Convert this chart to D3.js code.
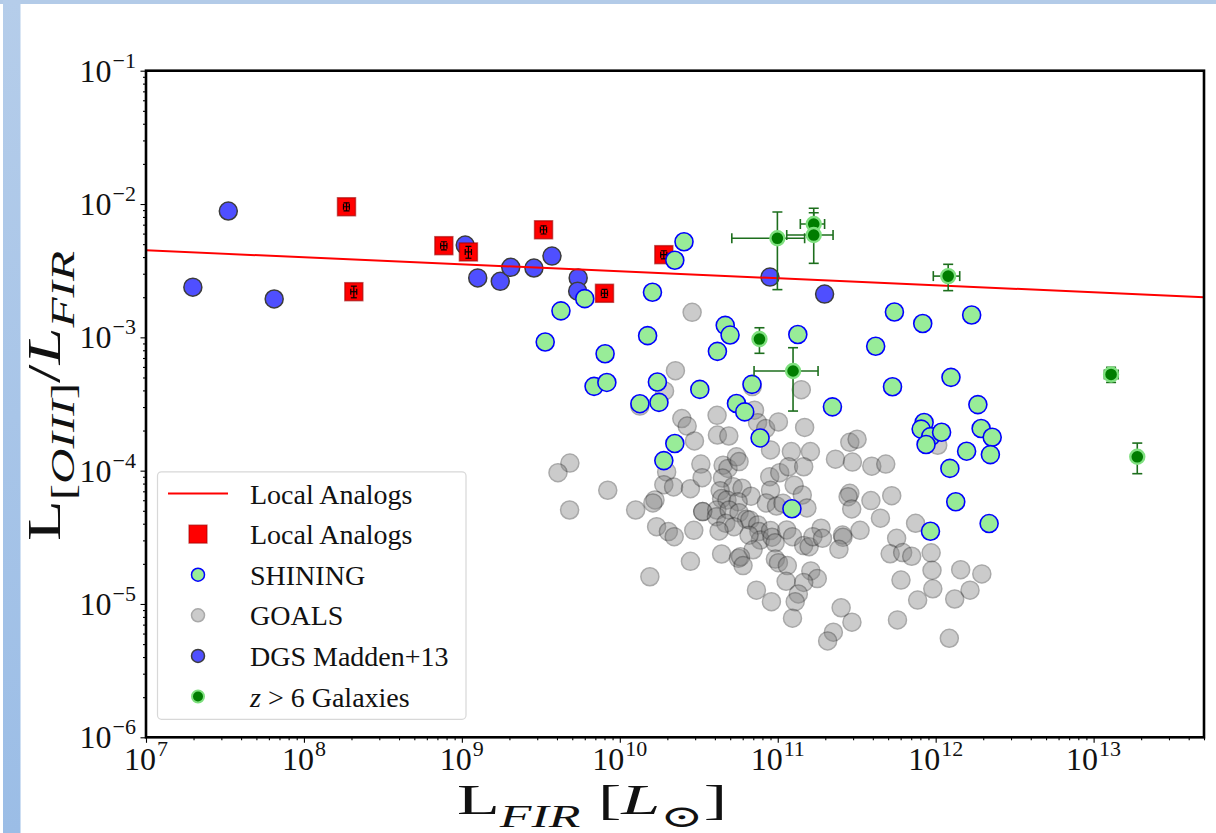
<!DOCTYPE html>
<html>
<head>
<meta charset="utf-8">
<script src="https://cdnjs.cloudflare.com/ajax/libs/d3/7.8.5/d3.min.js"></script>
<style>
    body { margin: 0; background: #fff; }
    text { font-family: "Liberation Serif", "DejaVu Serif", serif; fill: #111; }
</style>
</head>
<body>
<script>
    // ---- data ----
    const fitL = [1e7, 5e13];
    const fitRatio = [4.5e-3, 2.0e-3];

    const analogL = [1.86e8, 2.07e8, 7.69e8, 1.10e9, 3.29e9, 8.0e9, 1.90e10];
    const analogRatio = [9.54e-3, 2.20e-3, 4.87e-3, 4.37e-3, 6.41e-3, 2.14e-3, 4.17e-3];
    const analogLErr = [8e6, 9e6, 3.5e7, 5e7, 1.5e8, 3.6e8, 8.5e8];
    const analogRatioErr = [6.7e-4, 2.2e-4, 3.4e-4, 4.5e-4, 4.5e-4, 1.5e-4, 2.9e-4];

    const dgsL = [1.98e7, 3.32e7, 6.48e7, 1.05e9, 1.26e9, 1.75e9, 2.04e9, 2.86e9, 3.72e9, 5.45e9, 5.41e9, 8.93e10, 1.98e11];
    const dgsRatio = [2.38e-3, 8.86e-3, 1.94e-3, 4.92e-3, 2.79e-3, 2.63e-3, 3.35e-3, 3.31e-3, 4.07e-3, 2.79e-3, 2.22e-3, 2.83e-3, 2.11e-3];

    const shiningL = [2.55e10, 2.23e10, 1.61e10, 6.0e9, 4.24e9, 3.37e9, 8.07e9, 6.87e9, 8.28e9, 1.34e10,
        1.77e10, 1.73e10, 1.50e10, 3.21e10, 4.15e10, 4.65e10, 4.99e10, 6.87e10, 5.48e10, 6.18e10,
        1.34e11, 2.23e10, 1.90e10, 7.73e10, 1.23e11, 5.48e11, 8.28e11, 1.69e12, 4.17e11, 1.25e12,
        5.33e11, 2.22e11, 1.85e12, 8.45e11, 8.09e11, 9.29e11, 1.09e12, 8.69e11, 1.94e12, 2.28e12,
        1.57e12, 2.22e12, 1.23e12, 1.34e12, 2.18e12, 9.27e11];
    const shiningRatio = [5.21e-3, 3.79e-3, 2.18e-3, 1.95e-3, 1.58e-3, 9.23e-4, 7.53e-4, 4.29e-4, 4.59e-4, 3.18e-4,
        3.25e-4, 4.62e-4, 1.03e-3, 4.07e-4, 7.85e-4, 1.23e-3, 1.04e-3, 4.44e-4, 3.19e-4, 2.76e-4,
        1.05e-3, 1.60e-4, 1.19e-4, 1.76e-4, 5.18e-5, 1.55e-3, 1.27e-3, 1.47e-3, 8.57e-4, 5.01e-4,
        4.26e-4, 3.01e-4, 3.13e-4, 2.30e-4, 2.05e-4, 1.80e-4, 1.94e-4, 1.57e-4, 2.07e-4, 1.78e-4,
        1.40e-4, 1.32e-4, 1.04e-4, 5.85e-5, 4.01e-5, 3.51e-5];

    const goalsL = [2.87e10, 2.25e10, 1.92e10, 1.41e11, 7.13e10, 2.47e10, 2.67e10, 4.13e10, 7.45e10, 8.39e10,
        1.01e11, 1.48e11, 2.97e10, 4.15e10, 4.90e10, 9.0e10, 1.22e11, 1.61e11, 4.83e9, 4.06e9,
        8.39e9, 4.81e9, 1.26e10, 1.98e10, 1.90e10, 2.19e10, 2.80e10, 3.26e10, 3.32e10, 4.51e10,
        4.84e10, 5.48e10, 5.69e10, 4.47e10, 5.21e10, 5.94e10, 6.78e10, 4.32e10, 4.41e10, 4.77e10,
        5.61e10, 1.67e10, 1.62e10, 3.35e10, 3.35e10, 4.11e10, 4.09e10, 4.92e10, 5.69e10, 6.34e10,
        6.65e10, 4.69e10, 5.28e10, 4.25e10, 1.71e10, 2.03e10, 2.21e10, 2.94e10, 7.47e10, 7.60e10,
        7.76e10, 6.58e10, 9.0e10, 9.2e10, 9.62e10, 1.14e11, 1.24e11, 8.9e10, 9.0e10, 1.03e11,
        1.17e11, 1.46e11, 1.27e11, 1.43e11, 8.47e10, 9.82e10, 1.08e11, 1.53e11, 6.98e10, 4.41e10,
        5.64e10, 5.81e10, 6.03e10, 2.80e10, 1.55e10, 7.33e10, 9.12e10, 9.66e10, 1.01e11, 1.15e11,
        1.46e11, 1.58e11, 1.62e11, 1.78e11, 1.46e11, 1.13e11, 1.35e11, 1.29e11, 1.24e11, 1.88e11,
        1.67e11, 1.92e11, 2.86e11, 3.18e11, 2.32e11, 2.97e11, 3.94e11, 4.83e11, 2.86e11, 2.79e11,
        2.94e11, 3.89e11, 5.27e11, 4.47e11, 3.32e11, 7.46e11, 2.57e11, 2.59e11, 2.44e11, 5.66e11,
        5.15e11, 6.18e11, 7.05e11, 9.36e11, 9.48e11, 9.59e11, 7.69e11, 6.03e11, 1.44e12, 1.96e12,
        1.65e12, 1.32e12, 1.22e12, 2.52e11, 2.95e11, 2.25e11, 2.07e11, 5.73e11, 1.03e12, 1.34e10,
        6.9e10];
    const goalsRatio = [1.54e-3, 5.62e-4, 3.96e-4, 4.05e-4, 2.84e-4, 2.46e-4, 2.16e-4, 2.60e-4, 2.29e-4, 2.07e-4,
        2.32e-4, 2.11e-4, 1.67e-4, 1.85e-4, 1.82e-4, 1.43e-4, 1.39e-4, 1.39e-4, 1.14e-4, 9.66e-5,
        7.13e-5, 5.07e-5, 5.07e-5, 9.78e-5, 7.85e-5, 7.55e-5, 7.33e-5, 1.12e-4, 8.86e-5, 1.10e-4,
        1.04e-4, 1.27e-4, 1.17e-4, 8.81e-5, 7.59e-5, 7.38e-5, 6.43e-5, 7.08e-5, 6.17e-5, 6.03e-5,
        5.85e-5, 6.03e-5, 5.73e-5, 4.93e-5, 4.93e-5, 5.07e-5, 4.52e-5, 5.07e-5, 4.84e-5, 4.32e-5,
        4.27e-5, 4.03e-5, 3.80e-5, 3.53e-5, 3.80e-5, 3.49e-5, 3.20e-5, 3.57e-5, 3.92e-5, 3.49e-5,
        3.02e-5, 3.28e-5, 3.55e-5, 3.17e-5, 2.88e-5, 3.59e-5, 3.20e-5, 9.02e-5, 7.13e-5, 9.66e-5,
        1.07e-4, 1.07e-4, 7.77e-5, 6.57e-5, 5.73e-5, 5.43e-5, 5.69e-5, 5.25e-5, 2.55e-5, 2.37e-5,
        2.20e-5, 2.26e-5, 1.94e-5, 2.09e-5, 1.60e-5, 1.27e-5, 1.04e-5, 2.17e-5, 2.04e-5, 1.94e-5,
        2.74e-5, 2.69e-5, 1.77e-5, 1.55e-5, 1.45e-5, 1.48e-5, 1.19e-5, 1.04e-5, 7.83e-6, 3.70e-5,
        3.20e-5, 3.11e-5, 1.63e-4, 1.72e-4, 1.22e-4, 1.16e-4, 1.08e-4, 1.12e-4, 6.76e-5, 6.38e-5,
        5.16e-5, 5.96e-5, 6.49e-5, 4.40e-5, 3.57e-5, 4.03e-5, 3.29e-5, 3.16e-5, 2.57e-5, 3.11e-5,
        2.38e-5, 2.43e-5, 2.28e-5, 2.42e-5, 1.79e-5, 1.30e-5, 1.07e-5, 1.51e-5, 1.81e-5, 1.68e-5,
        1.27e-5, 1.09e-5, 5.53e-6, 9.37e-6, 7.30e-6, 6.14e-6, 5.28e-6, 7.59e-6, 1.55e-4, 3.05e-4,
        4.27e-4];

    const highzL = [9.95e10, 1.69e11, 1.69e11, 1.20e12, 1.25e11, 7.66e10, 1.29e13, 1.89e13];
    const highzRatio = [5.53e-3, 7.08e-3, 5.85e-3, 2.88e-3, 5.59e-4, 9.71e-4, 5.27e-4, 1.27e-4];
    const highzLLo = [5.12e10, 1.39e11, 1.14e11, 9.66e11, 7.08e10, 7.66e10, 1.17e13, 1.89e13];
    const highzLHi = [1.48e11, 1.98e11, 2.24e11, 1.42e12, 1.80e11, 7.66e10, 1.43e13, 1.89e13];
    const highzRatioLo = [2.28e-3, 5.4e-3, 3.59e-3, 2.24e-3, 2.80e-4, 7.59e-4, 4.59e-4, 9.49e-5];
    const highzRatioHi = [8.71e-3, 9.29e-3, 8.6e-3, 3.53e-3, 8.36e-4, 1.18e-3, 5.96e-4, 1.61e-4];

    const xTickExp = [7, 8, 9, 10, 11, 12, 13];
    const yTickExp = [-1, -2, -3, -4, -5, -6];

    const legendLabels = ['Local Analogs', 'Local Analogs', 'SHINING', 'GOALS', 'DGS Madden+13', 'z > 6 Galaxies'];

    // ---- colours ----
    const C = {
        red: '#ff0000', redEdge: '#a00000',
        dgs: '#4f4fff', dgsEdge: '#3c3c3c',
        shining: '#98ec98', shiningEdge: '#0000ff',
        goals: '#808080', goalsEdge: '#2a2a2a',
        hz: '#007d00', hzEdge: '#7fe07f', hzBar: '#1d6e1d'
    };

    const W = 1216, H = 833;
    const svg = d3.select('body').append('svg').attr('width', W).attr('height', H);

    // page decoration (blue frame of the screenshot)
    const defs = svg.append('defs');
    const grad = defs.append('linearGradient').attr('id', 'side').attr('x1', 0).attr('y1', 0).attr('x2', 0).attr('y2', 1);
    grad.append('stop').attr('offset', '0%').attr('stop-color', '#b5cdea');
    grad.append('stop').attr('offset', '100%').attr('stop-color', '#9bbde6');
    svg.append('rect').attr('x', 0).attr('y', 0).attr('width', W).attr('height', 4).attr('fill', '#b3cbe8');
    svg.append('rect').attr('x', 3).attr('y', 0).attr('width', 17.5).attr('height', H).attr('fill', 'url(#side)');

    const x = d3.scaleLog().domain([1e7, 5e13]).range([146, 1204]);
    const y = d3.scaleLog().domain([1e-6, 1e-1]).range([737.3, 70.7]);

    const xMajor = xTickExp.map(e => Math.pow(10, e));
    const yMajor = yTickExp.map(e => Math.pow(10, e));
    const xMinor = [], yMinor = [];
    xTickExp.forEach(e => d3.range(2, 10).forEach(m => { const v = m * Math.pow(10, e); if (v <= 5e13) xMinor.push(v); }));
    yTickExp.slice(1).forEach(e => d3.range(2, 10).forEach(m => yMinor.push(m * Math.pow(10, e))));

    // ---- axes ticks ----
    const axisG = svg.append('g');
    function tickAxis(axis, transform, size) {
        const g = axisG.append('g').attr('transform', transform).call(axis.tickSize(size).tickFormat(''));
        g.select('.domain').remove();
        g.selectAll('line').attr('stroke', '#000').attr('stroke-width', 1.1);
    }
    tickAxis(d3.axisBottom(x).tickValues(xMajor), `translate(0,${y.range()[0]})`, 5.5);
    tickAxis(d3.axisBottom(x).tickValues(xMinor), `translate(0,${y.range()[0]})`, 3);
    tickAxis(d3.axisLeft(y).tickValues(yMajor), `translate(${x.range()[0]},0)`, 5.5);
    tickAxis(d3.axisLeft(y).tickValues(yMinor), `translate(${x.range()[0]},0)`, 3);

    // tick labels 10^n : base and exponent as separate text elements
    const TF = 32, TS = 22;
    function powerLabel(px, py, e, anchor) {
        const g = axisG.append('g');
        const base = g.append('text').attr('font-size', TF).attr('y', py).text('10');
        const sup = g.append('text').attr('font-size', TS).attr('y', py - 14).text(String(e).replace('-', '\u2212'));
        const wb = base.node().getComputedTextLength(), ws = sup.node().getComputedTextLength();
        const total = wb + 1 + ws;
        const x0 = anchor === 'middle' ? px - total / 2 : px - total;
        base.attr('x', x0);
        sup.attr('x', x0 + wb + 1);
    }
    xTickExp.forEach(e => powerLabel(x(Math.pow(10, e)), 770, e, 'middle'));
    yTickExp.forEach(e => powerLabel(136, y(Math.pow(10, e)) + 11, e, 'end'));

    // ---- marks ----
    const plot = svg.append('g');
    const clip = defs.append('clipPath').attr('id', 'clip');
    clip.append('rect').attr('x', x.range()[0]).attr('y', y.range()[1])
        .attr('width', x.range()[1] - x.range()[0]).attr('height', y.range()[0] - y.range()[1]);
    plot.attr('clip-path', 'url(#clip)');

    const R = 9;

    plot.append('g').selectAll('circle').data(d3.zip(dgsL, dgsRatio)).enter().append('circle')
        .attr('cx', d => x(d[0])).attr('cy', d => y(d[1])).attr('r', R)
        .attr('fill', C.dgs).attr('stroke', C.dgsEdge).attr('stroke-width', 1.5);

    const sq = 18;
    const an = d3.zip(analogL, analogRatio, analogLErr, analogRatioErr);
    plot.append('g').selectAll('rect').data(an).enter().append('rect')
        .attr('x', d => x(d[0]) - sq / 2).attr('y', d => y(d[1]) - sq / 2)
        .attr('width', sq).attr('height', sq)
        .attr('fill', C.red).attr('stroke', C.redEdge).attr('stroke-opacity', 0.6).attr('stroke-width', 1.5);
    const anErr = plot.append('g').attr('stroke', '#000').attr('stroke-width', 1.2);
    an.forEach(d => {
        const cx = x(d[0]), cy = y(d[1]);
        const x0 = x(d[0] - d[2]), x1 = x(d[0] + d[2]);
        const y0 = y(d[1] - d[3]), y1 = y(d[1] + d[3]);
        anErr.append('line').attr('x1', x0).attr('x2', x1).attr('y1', cy).attr('y2', cy);
        anErr.append('line').attr('x1', cx).attr('x2', cx).attr('y1', y0).attr('y2', y1);
        [x0, x1].forEach(v => anErr.append('line').attr('x1', v).attr('x2', v).attr('y1', cy - 3).attr('y2', cy + 3));
        [y0, y1].forEach(v => anErr.append('line').attr('y1', v).attr('y2', v).attr('x1', cx - 3).attr('x2', cx + 3));
    });

    plot.append('g').selectAll('circle').data(d3.zip(goalsL, goalsRatio)).enter().append('circle')
        .attr('cx', d => x(d[0])).attr('cy', d => y(d[1])).attr('r', R)
        .attr('fill', C.goals).attr('stroke', C.goalsEdge).attr('stroke-width', 1.5).attr('opacity', 0.4);

    plot.append('g').selectAll('circle').data(d3.zip(shiningL, shiningRatio)).enter().append('circle')
        .attr('cx', d => x(d[0])).attr('cy', d => y(d[1])).attr('r', R)
        .attr('fill', C.shining).attr('stroke', C.shiningEdge).attr('stroke-width', 1.6);

    plot.append('path').datum(d3.zip(fitL, fitRatio))
        .attr('d', d3.line().x(d => x(d[0])).y(d => y(d[1])))
        .attr('stroke', C.red).attr('stroke-width', 2).attr('fill', 'none');

    // z > 6 with error bars
    const hz = d3.zip(highzL, highzRatio, highzLLo, highzLHi, highzRatioLo, highzRatioHi);
    const hzErr = plot.append('g').attr('stroke', C.hzBar).attr('stroke-width', 1.6);
    const cap = 5;
    hz.forEach(d => {
        const cx = x(d[0]), cy = y(d[1]);
        if (d[2] !== d[3]) {
            hzErr.append('line').attr('x1', x(d[2])).attr('x2', x(d[3])).attr('y1', cy).attr('y2', cy);
            [d[2], d[3]].forEach(v => hzErr.append('line').attr('x1', x(v)).attr('x2', x(v)).attr('y1', cy - cap).attr('y2', cy + cap));
        }
        hzErr.append('line').attr('x1', cx).attr('x2', cx).attr('y1', y(d[4])).attr('y2', y(d[5]));
        [d[4], d[5]].forEach(v => hzErr.append('line').attr('y1', y(v)).attr('y2', y(v)).attr('x1', cx - cap).attr('x2', cx + cap));
    });
    plot.append('g').selectAll('circle').data(hz).enter().append('circle')
        .attr('cx', d => x(d[0])).attr('cy', d => y(d[1])).attr('r', 7)
        .attr('fill', C.hz).attr('stroke', C.hzEdge).attr('stroke-width', 2.4);

    // frame
    svg.append('rect').attr('x', x.range()[0]).attr('y', y.range()[1])
        .attr('width', x.range()[1] - x.range()[0]).attr('height', y.range()[0] - y.range()[1])
        .attr('fill', 'none').attr('stroke', '#000').attr('stroke-width', 2.6);

    // ---- legend ----
    const lg = svg.append('g');
    lg.append('rect').attr('x', 157.5).attr('y', 471.8).attr('width', 308.5).attr('height', 247.5).attr('rx', 4)
        .attr('fill', '#fff').attr('fill-opacity', 0.85).attr('stroke', '#d8d8d8').attr('stroke-width', 1.2);
    const ly0 = 493.5, ldy = 40.6, mx = 198;
    legendLabels.forEach((lab, i) => {
        const yy = ly0 + i * ldy;
        const g = lg.append('g');
        if (i === 0) {
            g.append('line').attr('x1', 168).attr('x2', 228).attr('y1', yy).attr('y2', yy).attr('stroke', C.red).attr('stroke-width', 2);
        } else if (i === 1) {
            g.append('rect').attr('x', mx - 9).attr('y', yy - 9).attr('width', 18).attr('height', 18)
                .attr('fill', C.red).attr('stroke', C.redEdge).attr('stroke-opacity', 0.6).attr('stroke-width', 1.3);
        } else if (i === 2) {
            g.append('circle').attr('cx', mx).attr('cy', yy).attr('r', 6.5).attr('fill', C.shining).attr('stroke', C.shiningEdge).attr('stroke-width', 1.5);
        } else if (i === 3) {
            g.append('circle').attr('cx', mx).attr('cy', yy).attr('r', 6.5).attr('fill', C.goals).attr('stroke', C.goalsEdge).attr('stroke-width', 1.5).attr('opacity', 0.4);
        } else if (i === 4) {
            g.append('circle').attr('cx', mx).attr('cy', yy).attr('r', 6.5).attr('fill', C.dgs).attr('stroke', C.dgsEdge).attr('stroke-width', 1.5);
        } else {
            g.append('circle').attr('cx', mx).attr('cy', yy).attr('r', 6).attr('fill', C.hz).attr('stroke', C.hzEdge).attr('stroke-width', 2);
        }
        const t = g.append('text').attr('x', 250).attr('y', yy + 10).attr('font-size', 28);
        if (i === 5) {
            t.append('tspan').attr('font-style', 'italic').text('z');
            t.append('tspan').text(' > 6 Galaxies');
        } else {
            t.text(lab);
        }
    });

    // ---- axis labels (mathtext-like) ----
    function mathLabel(g, parts, size, length) {
        const t = g.append('text').attr('font-size', size)
            .attr('textLength', length).attr('lengthAdjust', 'spacingAndGlyphs');
        let shift = 0;
        parts.forEach(p => {
            const target = p.sub ? size * 0.3 : 0;
            t.append('tspan')
                .attr('dy', target - shift)
                .attr('font-size', p.sub ? size * 0.74 : size)
                .attr('font-style', p.it ? 'italic' : 'normal')
                .text(p.t);
            shift = target;
        });
        return t;
    }
    mathLabel(svg.append('g').attr('transform', 'translate(592,814)'), [
        { t: 'L' }, { t: 'FIR', sub: true, it: true }, { t: ' [' }, { t: 'L', it: true }, { t: '\u2299', sub: true }, { t: ']' }
    ], 42, 270).attr('text-anchor', 'middle');
    mathLabel(svg.append('g').attr('transform', 'translate(60,396) rotate(-90)'), [
        { t: 'L' }, { t: '[', sub: true }, { t: 'OIII', sub: true, it: true }, { t: ']', sub: true },
        { t: '/' }, { t: 'L', it: true }, { t: 'FIR', sub: true, it: true }
    ], 46, 290).attr('text-anchor', 'middle');
</script>
</body>
</html>
